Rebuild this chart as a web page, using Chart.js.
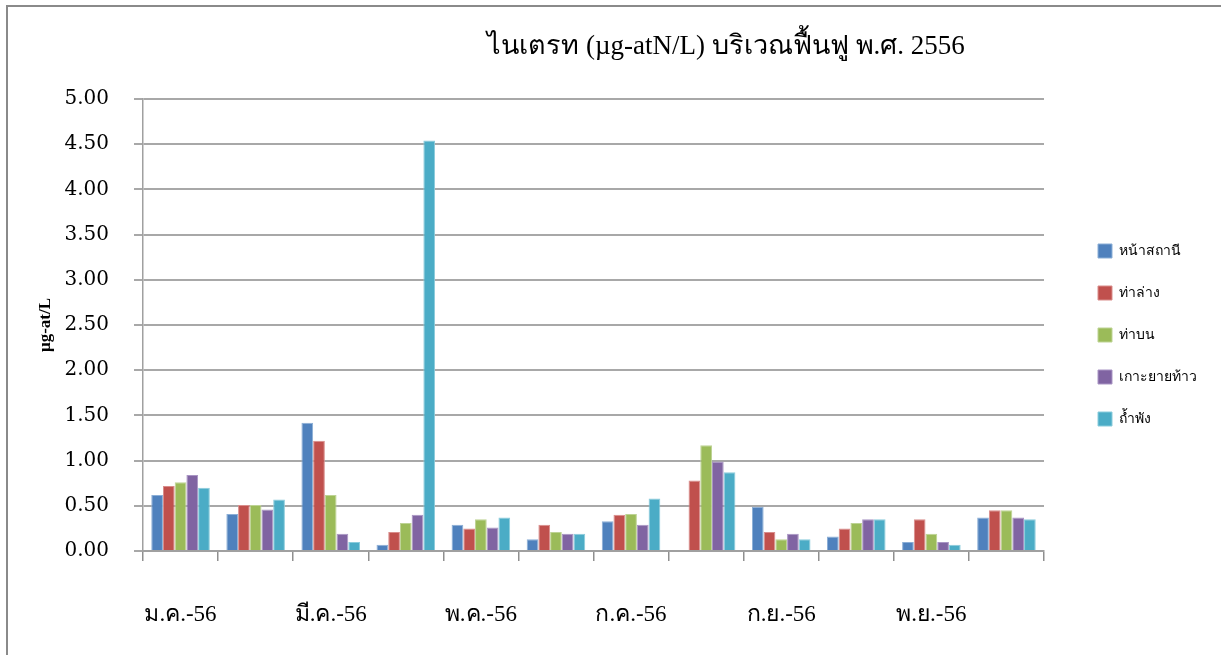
<!DOCTYPE html>
<html>
<head>
<meta charset="utf-8">
<script src="https://cdn.jsdelivr.net/npm/chart.js@4/dist/chart.umd.min.js"></script>
<style>
  html, body { margin: 0; padding: 0; background: #fff; }
  #wrap { position: relative; width: 1221px; height: 655px; overflow: hidden; }
  #wrap canvas { position: absolute; left: 0; top: 0; }
  #frame {
    position: absolute; left: 6px; top: 5px; width: 1400px; height: 800px;
    border-left: 2px solid #8a8a8a; border-top: 2px solid #8a8a8a;
    pointer-events: none;
  }
</style>
</head>
<body>
<div id="wrap">
  <canvas id="chart" width="1221" height="655"></canvas>
  <div id="frame"></div>
</div>
<script>
// Months of 2556 (B.E.)
const months = ['ม.ค.-56', 'ก.พ.-56', 'มี.ค.-56', 'เม.ย.-56', 'พ.ค.-56', 'มิ.ย.-56',
                'ก.ค.-56', 'ส.ค.-56', 'ก.ย.-56', 'ต.ค.-56', 'พ.ย.-56', 'ธ.ค.-56'];

// Stations
const stations = ['หน้าสถานี', 'ท่าล่าง', 'ท่าบน', 'เกาะยายท้าว', 'ถ้ำพัง'];

// Nitrate (µg-at N/L) per station and month
const naSathani   = [0.62, 0.41, 1.42, 0.07, 0.29, 0.13, 0.33, null, 0.49, 0.16, 0.10, 0.37];
const thaLang     = [0.72, 0.51, 1.22, 0.21, 0.25, 0.29, 0.40, 0.78, 0.21, 0.25, 0.35, 0.45];
const thaBon      = [0.76, 0.51, 0.62, 0.31, 0.35, 0.21, 0.41, 1.17, 0.13, 0.31, 0.19, 0.45];
const kohYaiThao  = [0.84, 0.46, 0.19, 0.40, 0.26, 0.19, 0.29, 0.99, 0.19, 0.35, 0.10, 0.37];
const thamPhang   = [0.70, 0.57, 0.10, 4.54, 0.37, 0.19, 0.58, 0.87, 0.13, 0.35, 0.07, 0.35];

// Y axis ticks
const yTicks = [0, 0.5, 1, 1.5, 2, 2.5, 3, 3.5, 4, 4.5, 5];

const chartTitle = 'ไนเตรท (µg-atN/L) บริเวณฟื้นฟู พ.ศ. 2556';
const yTitle = 'µg-at/L';

const seriesValues = [naSathani, thaLang, thaBon, kohYaiThao, thamPhang];
const seriesColors = ['#4F81BD', '#C0504D', '#9BBB59', '#8064A2', '#4BACC6'];
const seriesEdges  = ['#8BAED6', '#D98D8B', '#BDD394', '#A995C4', '#8ACCDC'];

const serif = "'Liberation Serif', 'Times New Roman', serif";
const wideSerif = "'DejaVu Serif', 'Liberation Serif', serif";
const sans = "'DejaVu Sans', 'Noto Sans', sans-serif";

// Title drawn centred over the upper part of the plot
const titlePlugin = {
  id: 'chartTitleText',
  afterDraw(chart) {
    const ctx = chart.ctx;
    ctx.save();
    ctx.font = '27px ' + serif;
    ctx.fillStyle = '#000';
    ctx.textAlign = 'center';
    ctx.textBaseline = 'middle';
    ctx.fillText(chartTitle, 726, 47);
    ctx.restore();
  }
};

// Keep a gap between the plot and the legend column
const legendGap = {
  id: 'legendGap',
  afterLayout(chart) {
    const lg = chart.legend;
    const pad = lg.options.labels.padding;
    const dx = chart.chartArea.right + 54 - (lg.left + pad);
    lg.left += dx; lg.right += dx;
    lg.top -= 42; lg.bottom -= 42;
  }
};

new Chart(document.getElementById('chart'), {
  type: 'bar',
  data: {
    labels: months,
    datasets: stations.map((name, i) => ({
      label: name,
      data: seriesValues[i],
      backgroundColor: seriesColors[i],
      borderColor: seriesEdges[i],
      borderWidth: 1,
      categoryPercentage: 0.78,
      barPercentage: 1.0
    }))
  },
  options: {
    responsive: false,
    animation: false,
    layout: { padding: { top: 99, right: 40, bottom: 0, left: 0 } },
    plugins: {
      title: { display: false },
      tooltip: { enabled: false },
      legend: {
        position: 'right',
        align: 'center',
        labels: {
          boxWidth: 14, boxHeight: 14, padding: 28,
          color: '#000',
          font: { size: 14, family: sans }
        }
      }
    },
    scales: {
      x: {
        offset: true,
        grid: { drawOnChartArea: false, offset: true, tickLength: 10, color: '#8f8f8f', lineWidth: 1.5 },
        border: { display: true, color: '#a0a0a0', width: 2 },
        ticks: {
          autoSkip: false, maxRotation: 0, minRotation: 0, padding: 40,
          color: '#000', font: { size: 23, family: serif },
          callback: (v, i) => (i % 2 === 0 ? months[i] : '')
        },
        afterFit(scale) { scale.height = 104; }
      },
      y: {
        min: 0, max: 5,
        afterBuildTicks(scale) { scale.ticks = yTicks.map(v => ({ value: v })); },
        grid: { color: '#a8a8a8', lineWidth: 2, tickLength: 9 },
        border: { display: true, color: '#a0a0a0', width: 1.5 },
        ticks: {
          padding: 25, color: '#000', font: { size: 20, family: wideSerif },
          callback: v => Number(v).toFixed(2)
        },
        title: {
          display: true, text: yTitle, color: '#000',
          font: { size: 17, weight: 'bold', family: serif },
          padding: { top: 35, bottom: 0 }
        },
        afterFit(scale) { scale.width = 143; }
      }
    }
  },
  plugins: [titlePlugin, legendGap]
});
</script>
</body>
</html>
